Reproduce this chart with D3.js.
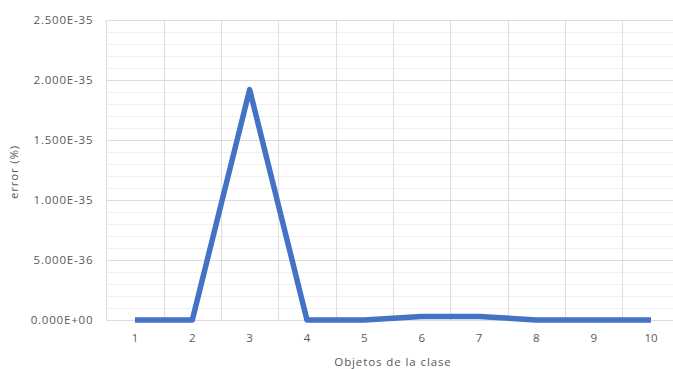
<!DOCTYPE html>
<html><head><meta charset="utf-8">
<script src="https://cdn.jsdelivr.net/npm/d3@7"></script>
<style>body{margin:0;background:#fff;overflow:hidden}svg{display:block;font-family:"Open Sans","Noto Sans",sans-serif}</style>
</head><body><svg id="c" width="673" height="369"></svg>
<script>
const categories = ["1","2","3","4","5","6","7","8","9","10"];
const errorValues = [0, 0, 1.92e-35, 0, 0, 3e-37, 3e-37, 0, 0, 0];
const yTicks = [0, 5e-36, 1e-35, 1.5e-35, 2e-35, 2.5e-35];
const yTickLabels = ["0.000E+00","5.000E-36","1.000E-35","1.500E-35","2.000E-35","2.500E-35"];

(function () {
const svg = d3.select("#c");
const pL = 106.3, pR = 679.7, pT = 20, pB = 320;
const x = d3.scaleBand().domain(categories).range([pL, pR]);
const y = d3.scaleLinear().domain([0, 2.5e-35]).range([pB, pT]);
const FONT = '"Open Sans","Noto Sans",sans-serif';

// minor gridlines
const minor = d3.range(0, 26).map(i => i * 1e-36);
svg.append("g").selectAll("line").data(minor).join("line")
  .attr("x1", pL).attr("x2", pR)
  .attr("y1", d => Math.round(y(d)) + 0.5).attr("y2", d => Math.round(y(d)) + 0.5)
  .attr("stroke", "#f0f0f0").attr("stroke-width", 1);
// vertical gridlines
const vlines = categories.map(c => x(c)).concat([pR]);
svg.append("g").selectAll("line").data(vlines).join("line")
  .attr("x1", d => Math.round(d) + 0.5).attr("x2", d => Math.round(d) + 0.5)
  .attr("y1", pT).attr("y2", pB)
  .attr("stroke", "#dedede").attr("stroke-width", 1);
// major gridlines
svg.append("g").selectAll("line").data(yTicks).join("line")
  .attr("x1", pL).attr("x2", pR)
  .attr("y1", d => Math.round(y(d)) + 0.5).attr("y2", d => Math.round(y(d)) + 0.5)
  .attr("stroke", "#dcdcdc").attr("stroke-width", 1);

// y axis labels
const yAxis = d3.axisLeft(y).tickValues(yTicks).tickSize(0).tickPadding(13)
  .tickFormat((d, i) => yTickLabels[i]);
const ya = svg.append("g").attr("transform", `translate(${pL},0)`).call(yAxis);
ya.select(".domain").remove();
ya.selectAll("text").attr("fill", "#595959").style("font-size", "11.5px")
  .style("letter-spacing", "0.8px").style("font-family", FONT);

// x axis labels
const xAxis = d3.axisBottom(x).tickSize(0).tickPadding(14);
const xa = svg.append("g").attr("transform", `translate(0,${pB})`).call(xAxis);
xa.select(".domain").remove();
xa.selectAll("text").attr("fill", "#595959").style("font-size", "11.5px").style("font-family", FONT);

// line
const line = d3.line().x((d, i) => x(categories[i]) + x.bandwidth() / 2).y(d => y(d));
svg.append("path").datum(errorValues).attr("d", line)
  .attr("fill", "none").attr("stroke", "#4472c4").attr("stroke-width", 5.5)
  .attr("stroke-linejoin", "round").attr("stroke-linecap", "butt");

// titles
svg.append("text").attr("x", 393).attr("y", 366).attr("text-anchor", "middle")
  .attr("fill", "#595959").style("font-size", "11.5px").style("letter-spacing", "0.9px")
  .text("Objetos de la clase");
svg.append("text").attr("transform", "translate(18,172) rotate(-90)").attr("text-anchor", "middle")
  .attr("fill", "#595959").style("font-size", "11.5px").style("letter-spacing", "0.8px")
  .text("error (%)");
})();
</script></body></html>
